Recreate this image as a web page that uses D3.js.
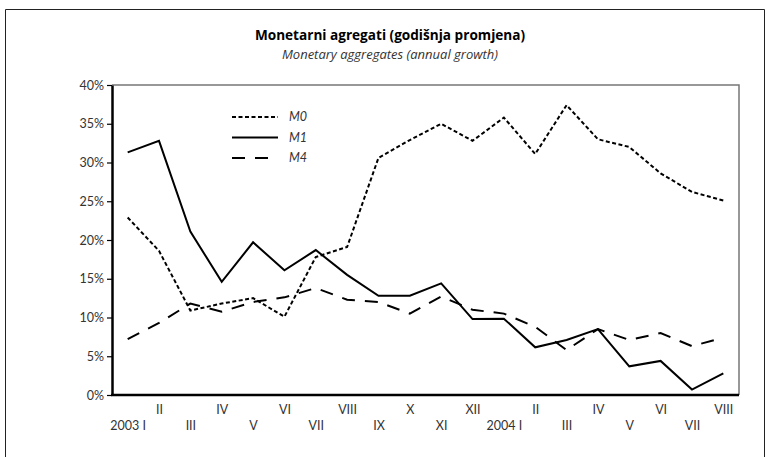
<!DOCTYPE html>
<html>
<head>
<meta charset="utf-8">
<script src="https://cdn.jsdelivr.net/npm/d3@7"></script>
<style>
body { margin: 0; background: #fff; }
text { font-family: Lato, "Open Sans", sans-serif; }
</style>
</head>
<body>
<div id="chart"></div>
<script>
var width = 770;
var height = 457;

// months 2003 I .. 2004 VIII
var months = ["2003 I", "II", "III", "IV", "V", "VI", "VII", "VIII", "IX", "X", "XI", "XII",
	"2004 I", "II ", "III ", "IV ", "V ", "VI ", "VII ", "VIII "];

var m0 = [22.9, 18.6, 10.9, 11.8, 12.5, 10.1, 17.8, 19.1, 30.6, 32.9, 35.0, 32.8,
	35.8, 31.1, 37.4, 33.0, 32.0, 28.6, 26.2, 25.1];
var m1 = [31.3, 32.8, 21.1, 14.6, 19.7, 16.1, 18.7, 15.5, 12.8, 12.8, 14.4, 9.8,
	9.85, 6.15, 7.1, 8.5, 3.7, 4.4, 0.7, 2.8];
var m4 = [7.2, 9.3, 11.8, 10.75, 12.0, 12.6, 13.8, 12.3, 12.0, 10.5, 12.7, 11.0,
	10.5, 8.8, 5.8, 8.5, 7.1, 8.0, 6.3, 7.4];

var seriesNames = ["M0", "M1", "M4"];
var dashes = ["4,2.5", null, "13,10"];
var yTicks = [0, 5, 10, 15, 20, 25, 30, 35, 40];

var svg = d3.select("#chart").append("svg")
	.attr("width", width)
	.attr("height", height);

// outer frame
svg.append("path")
	.attr("d", "M5.5,457 V9.5 H764.5 V457")
	.attr("fill", "none")
	.attr("stroke", "#222")
	.attr("stroke-width", 1);

// titles
svg.append("text")
	.attr("x", 390).attr("y", 40)
	.attr("text-anchor", "middle")
	.style("font-family", "'Open Sans', sans-serif")
	.style("font-size", "13.6px")
	.style("font-weight", "bold")
	.text("Monetarni agregati (godišnja promjena)");
svg.append("text")
	.attr("x", 390).attr("y", 59)
	.attr("text-anchor", "middle")
	.style("font-family", "'Open Sans', sans-serif")
	.style("font-size", "13px")
	.style("font-style", "italic")
	.attr("fill", "#333")
	.text("Monetary aggregates (annual growth)");

var plotLeft = 112, plotRight = 739, plotTop = 85, plotBottom = 395;

var x = d3.scalePoint().domain(months).range([plotLeft, plotRight]).padding(0.5);
var y = d3.scaleLinear().domain([0, 40]).range([plotBottom, plotTop]);

// top and right frame of plot
svg.append("path")
	.attr("d", "M" + plotLeft + "," + plotTop + " H" + plotRight + " V" + plotBottom)
	.attr("fill", "none")
	.attr("stroke", "#777")
	.attr("stroke-width", 1.5);

// y axis
var yAxis = d3.axisLeft(y).tickValues(yTicks).tickSize(5).tickSizeOuter(0)
	.tickFormat(function(d) { return d + "%"; });
var gy = svg.append("g")
	.attr("transform", "translate(" + plotLeft + ",0)")
	.call(yAxis);
gy.select(".domain").attr("stroke", "#000").attr("stroke-width", 2.5);
gy.selectAll(".tick line").attr("stroke", "#000").attr("stroke-width", 1.2);
gy.selectAll(".tick text")
	.attr("x", -8)
	.attr("fill", "#333")
	.style("font-size", "12.5px")
	.style("font-family", "Lato, sans-serif");

// x axis, labels in two rows
var xAxis = d3.axisBottom(x).tickSize(0).tickSizeOuter(0);
var gx = svg.append("g")
	.attr("transform", "translate(0," + plotBottom + ")")
	.call(xAxis);
gx.select(".domain")
	.attr("d", "M" + (plotLeft - 1) + ",0H" + plotRight)
	.attr("stroke", "#000").attr("stroke-width", 2.5);
gx.selectAll(".tick text")
	.attr("y", function(d, i) { return i % 2 == 0 ? 31 : 15; })
	.attr("dy", "0.3em")
	.attr("fill", "#333")
	.style("font-size", "12.5px")
	.style("font-family", "Lato, sans-serif");

// lines
var line = d3.line()
	.x(function(d, i) { return x(months[i]); })
	.y(function(d) { return y(d); });

[m0, m1, m4].forEach(function(s, k) {
	svg.append("path")
		.datum(s)
		.attr("d", line)
		.attr("fill", "none")
		.attr("stroke", "#000")
		.attr("stroke-width", 2)
		.attr("stroke-linejoin", "miter")
		.attr("stroke-dasharray", dashes[k]);
});

// legend
var legend = svg.append("g");
seriesNames.forEach(function(name, k) {
	var ly = 117 + k * 20.5;
	legend.append("line")
		.attr("x1", 232).attr("x2", 278)
		.attr("y1", ly).attr("y2", ly)
		.attr("stroke", "#000")
		.attr("stroke-width", 2)
		.attr("stroke-dasharray", dashes[k]);
	legend.append("text")
		.attr("x", 289).attr("y", ly)
		.attr("dy", "0.35em")
		.attr("fill", "#333")
		.style("font-size", "12.5px")
		.style("font-style", "italic")
		.text(name);
});
</script>
</body>
</html>
